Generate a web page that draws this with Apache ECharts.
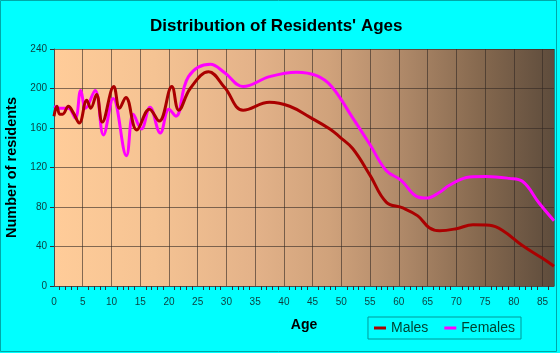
<!DOCTYPE html>
<html><head><meta charset="utf-8">
<script src="https://cdn.jsdelivr.net/npm/echarts@6/dist/echarts.min.js"></script>
<style>html,body{margin:0;padding:0;background:#00FFFF;}#c{width:560px;height:353px;}</style>
</head><body><div id="c"></div>
<script>
const title = "Distribution of Residents' Ages";
const xTitle = "Age";
const yTitle = "Number of residents";
const seriesNames = ["Males", "Females"];
const maleAges = [0,0.5,1,1.5,2.5,3.4,4.4,5.7,6.4,7.4,8.4,10.4,11.4,12.5,14.4,16.6,18.3,20.5,21.7,23.7,26.9,29.7,32.9,37.5,41.0,44.5,48.0,49.7,52.0,55.0,57.8,60.7,63.3,65.3,67.1,70.0,72.9,75.8,78.0,81.5,85.0,87];
const maleVals = [172,182,174,174,182,175,165,188,180,194,166,202,180,191,158,179,167,202,178,200,217,201,178,186,182,171,159,151,139,112,85,79,71,59,56,58,62,61.5,56.5,41,28,20];
const femaleAges = [0,1,2.5,3.7,4.65,5.5,7.15,8.6,10.3,12.6,13.8,15.2,16.7,18.5,20,21.2,23.4,27.2,29.7,32.9,37.5,42.2,45.7,48.3,52.0,55.0,57.8,60.4,63.0,64.8,67.1,68.8,72.3,75.2,79.2,81.5,84.4,87];
const femaleVals = [182,180,180,170,198,180,198,153,190,132,174,159,181,155,179,172,212,224.5,216,202,212,216.5,213,202,170,143,117,107,91,89,95,102,110.5,111,109,106,84,66];
const xTicks = [0,5,10,15,20,25,30,35,40,45,50,55,60,65,70,75,80,85];
const yTicks = [0,40,80,120,160,200,240];

const chart = echarts.init(document.getElementById('c'), null, {renderer:'canvas'});
const pair = (a, v) => a.map((x, i) => [x, v[i]]);
chart.setOption({
  backgroundColor: '#00FFFF',
  animation: false,
  title: { text: title, left: 145, top: 13,
    textStyle: { fontFamily: 'Liberation Sans, Arial', fontWeight: 'bold', fontSize: 17, color: '#000' } },
  graphic: [{ type: 'rect', shape: { x: 0.5, y: 0.5, width: 556, height: 351 }, style: { fill: null, stroke: '#00a8a8', lineWidth: 1 }, z: 0 }],
  legend: {
    data: seriesNames, right: 39, bottom: 14, orient: 'horizontal',
    itemWidth: 12, itemHeight: 3, itemGap: 16, icon: 'rect',
    borderColor: '#009999', borderWidth: 1, padding: [4, 6, 4, 6],
    textStyle: { fontFamily: 'Liberation Sans, Arial', fontSize: 14, color: '#043' }
  },
  grid: { left: 54, right: 6, top: 49, bottom: 67, containLabel: false, outerBoundsMode: 'none',
    show: true, borderWidth: 0,
    backgroundColor: { type: 'linear', x: 0, y: 0, x2: 1, y2: 0, colorStops: [
      { offset: 0, color: '#FFCC99' }, { offset: 0.2, color: '#F5C393' },
      { offset: 0.4, color: '#E3B289' }, { offset: 0.55, color: '#D0A27B' },
      { offset: 0.7, color: '#AE8868' }, { offset: 0.85, color: '#86694F' },
      { offset: 1, color: '#5E4C3C' }] } },
  xAxis: { type: 'value', min: 0, max: 87, interval: 5,
    name: xTitle, nameLocation: 'middle', nameGap: 32,
    nameTextStyle: { fontFamily: 'Liberation Sans, Arial', fontWeight: 'bold', fontSize: 14, color: '#000' },
    axisLine: { show: true, lineStyle: { color: '#4a4a4a', width: 1 } },
    axisTick: { show: false },
    minorTick: { show: true, splitNumber: 5, length: 4, lineStyle: { color: '#333' } },
    axisLabel: { fontFamily: 'Liberation Sans, Arial', fontSize: 10, color: '#0d3d3d', margin: 11,
      formatter: v => xTicks.includes(v) ? String(v) : '' },
    splitLine: { show: true, lineStyle: { color: 'rgba(50,40,35,0.6)', width: 1 } } },
  yAxis: { type: 'value', min: 0, max: 240, interval: 40,
    name: yTitle, nameLocation: 'middle', nameGap: 30,
    nameTextStyle: { fontFamily: 'Liberation Sans, Arial', fontWeight: 'bold', fontSize: 14.5, color: '#000' },
    axisLine: { show: true, lineStyle: { color: '#4a4a4a' } },
    axisTick: { show: true, length: 4, lineStyle: { color: '#333' } },
    axisLabel: { fontFamily: 'Liberation Sans, Arial', fontSize: 10, color: '#0d3d3d', margin: 7,
      formatter: v => yTicks.includes(v) ? String(v) : '' },
    splitLine: { show: true, lineStyle: { color: 'rgba(50,40,35,0.6)', width: 1 } } },
  series: [
    { name: seriesNames[0], type: 'line', data: pair(maleAges, maleVals), smooth: 0.4, showSymbol: false,
      lineStyle: { color: '#AA0000', width: 3 }, itemStyle: { color: '#AA0000' }, z: 3 },
    { name: seriesNames[1], type: 'line', data: pair(femaleAges, femaleVals), smooth: 0.4, showSymbol: false,
      lineStyle: { color: '#FF00FF', width: 3 }, itemStyle: { color: '#FF00FF' }, z: 2 }
  ]
});
</script></body></html>
